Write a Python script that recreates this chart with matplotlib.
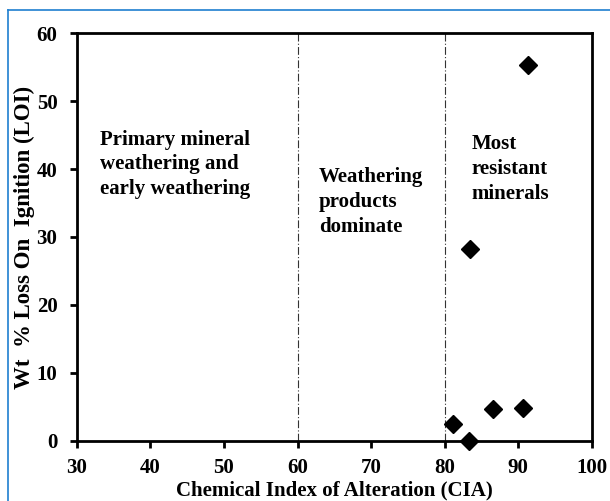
import matplotlib
matplotlib.use('Agg')
import matplotlib.pyplot as plt
from matplotlib.lines import Line2D

# data
cia = [91.3, 83.5, 81.2, 83.3, 86.6, 90.7]
loi = [55.3, 28.3, 2.5, 0.0, 4.7, 4.8]

boundaries = [60, 80]
zone_labels = ['Primary mineral\nweathering and\nearly weathering',
               'Weathering\nproducts\ndominate',
               'Most\nresistant\nminerals']
zone_x = [33.2, 62.9, 83.7]
zone_y = [45.8, 40.3, 45.1]

xticks = [30, 40, 50, 60, 70, 80, 90, 100]
yticks = [0, 10, 20, 30, 40, 50, 60]

plt.rcParams['font.family'] = ['Liberation Serif', 'DejaVu Serif']
plt.rcParams['font.weight'] = 'bold'

fig = plt.figure(figsize=(6.10, 5.01), dpi=100)
ax = fig.add_axes([0.126, 0.120, 0.844, 0.814])

ax.plot(cia, loi, linestyle='none', marker='D', markersize=9.5,
        color='black', clip_on=False, zorder=5)

for b in boundaries:
    ax.axvline(b, color='#333333', linewidth=0.8, dashes=(7, 2, 1, 2))

for lab, x, y in zip(zone_labels, zone_x, zone_y):
    ax.text(x, y, lab, fontsize=15, fontweight='bold', ha='left', va='top',
            linespacing=1.32)

ax.set_xlim(30, 100)
ax.set_ylim(0, 60)
ax.set_xticks(xticks)
ax.set_yticks(yticks)
ax.tick_params(direction='out', length=5, width=2, labelsize=15)
ax.tick_params(axis='x', pad=7)
ax.tick_params(axis='y', pad=9)
for lab in ax.get_xticklabels() + ax.get_yticklabels():
    lab.set_fontweight('bold')
for s in ax.spines.values():
    s.set_linewidth(2)

ax.set_xlabel('Chemical Index of Alteration (CIA)', fontsize=15,
              fontweight='bold', labelpad=2)
ax.set_ylabel('Wt  % Loss On  Ignition (LOI)', fontsize=16.5,
              fontweight='bold', labelpad=1)

# blue frame of the source figure
fig.add_artist(Line2D([8 / 610, 8 / 610], [0, 1 - 10 / 501],
                      color='#1f7fd0', linewidth=1.2))
fig.add_artist(Line2D([8 / 610, 1], [1 - 10 / 501, 1 - 10 / 501],
                      color='#1f7fd0', linewidth=1.2))

fig.savefig('out.png', dpi=100)
